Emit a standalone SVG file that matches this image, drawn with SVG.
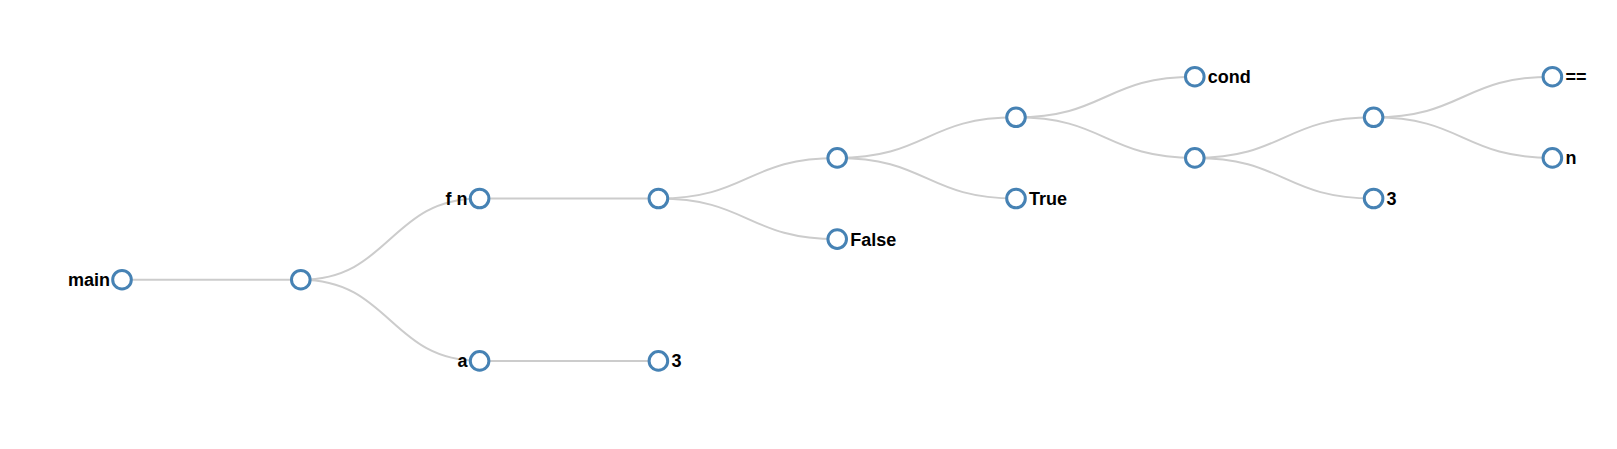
<svg xmlns="http://www.w3.org/2000/svg" width="1617" height="449" viewBox="0 0 1617 449">
<style>
.link{fill:none;stroke:#ccc;stroke-width:2}
.node circle{fill:#fff;stroke:#4682b4;stroke-width:3}
.node text{font-family:"Liberation Sans",Arial,sans-serif;font-weight:bold;font-size:18px;fill:#000}
.l{text-anchor:end}
</style>
<rect width="1617" height="449" fill="#fff"/>
<g id="links">
<path class="link" d="M122,279.7 C211.4,279.7 211.4,279.7 300.8,279.7"/>
<path class="link" d="M300.8,279.7 C390.2,279.7 390.2,198.5 479.6,198.5"/>
<path class="link" d="M300.8,279.7 C390.2,279.7 390.2,360.9 479.6,360.9"/>
<path class="link" d="M479.6,198.5 C569,198.5 569,198.5 658.4,198.5"/>
<path class="link" d="M479.6,360.9 C569,360.9 569,360.9 658.4,360.9"/>
<path class="link" d="M658.4,198.5 C747.8,198.5 747.8,157.9 837.2,157.9"/>
<path class="link" d="M658.4,198.5 C747.8,198.5 747.8,239.1 837.2,239.1"/>
<path class="link" d="M837.2,157.9 C926.6,157.9 926.6,117.3 1016,117.3"/>
<path class="link" d="M837.2,157.9 C926.6,157.9 926.6,198.5 1016,198.5"/>
<path class="link" d="M1016,117.3 C1105.4,117.3 1105.4,76.7 1194.8,76.7"/>
<path class="link" d="M1016,117.3 C1105.4,117.3 1105.4,157.9 1194.8,157.9"/>
<path class="link" d="M1194.8,157.9 C1284.2,157.9 1284.2,117.3 1373.6,117.3"/>
<path class="link" d="M1194.8,157.9 C1284.2,157.9 1284.2,198.5 1373.6,198.5"/>
<path class="link" d="M1373.6,117.3 C1463,117.3 1463,76.7 1552.4,76.7"/>
<path class="link" d="M1373.6,117.3 C1463,117.3 1463,157.9 1552.4,157.9"/>
</g>
<g id="n-main" class="node" transform="translate(122,279.7)"><circle r="9.3"/><text class="l" x="-12" dy="6.4">main</text></g>
<g id="n-1" class="node" transform="translate(300.8,279.7)"><circle r="9.3"/></g>
<g id="n-fn" class="node" transform="translate(479.6,198.5)"><circle r="9.3"/><text class="l" x="-12" dy="6.4">f n</text></g>
<g id="n-a" class="node" transform="translate(479.6,360.9)"><circle r="9.3"/><text class="l" x="-12" dy="6.4">a</text></g>
<g id="n-2" class="node" transform="translate(658.4,198.5)"><circle r="9.3"/></g>
<g id="n-3a" class="node" transform="translate(658.4,360.9)"><circle r="9.3"/><text x="13" dy="6.4">3</text></g>
<g id="n-4" class="node" transform="translate(837.2,157.9)"><circle r="9.3"/></g>
<g id="n-false" class="node" transform="translate(837.2,239.1)"><circle r="9.3"/><text x="13" dy="6.4">False</text></g>
<g id="n-5" class="node" transform="translate(1016,117.3)"><circle r="9.3"/></g>
<g id="n-true" class="node" transform="translate(1016,198.5)"><circle r="9.3"/><text x="13" dy="6.4">True</text></g>
<g id="n-cond" class="node" transform="translate(1194.8,76.7)"><circle r="9.3"/><text x="13" dy="6.4">cond</text></g>
<g id="n-6" class="node" transform="translate(1194.8,157.9)"><circle r="9.3"/></g>
<g id="n-7" class="node" transform="translate(1373.6,117.3)"><circle r="9.3"/></g>
<g id="n-3b" class="node" transform="translate(1373.6,198.5)"><circle r="9.3"/><text x="13" dy="6.4">3</text></g>
<g id="n-eq" class="node" transform="translate(1552.4,76.7)"><circle r="9.3"/><text x="13" dy="6.4">==</text></g>
<g id="n-n" class="node" transform="translate(1552.4,157.9)"><circle r="9.3"/><text x="13" dy="6.4">n</text></g>
</svg>
